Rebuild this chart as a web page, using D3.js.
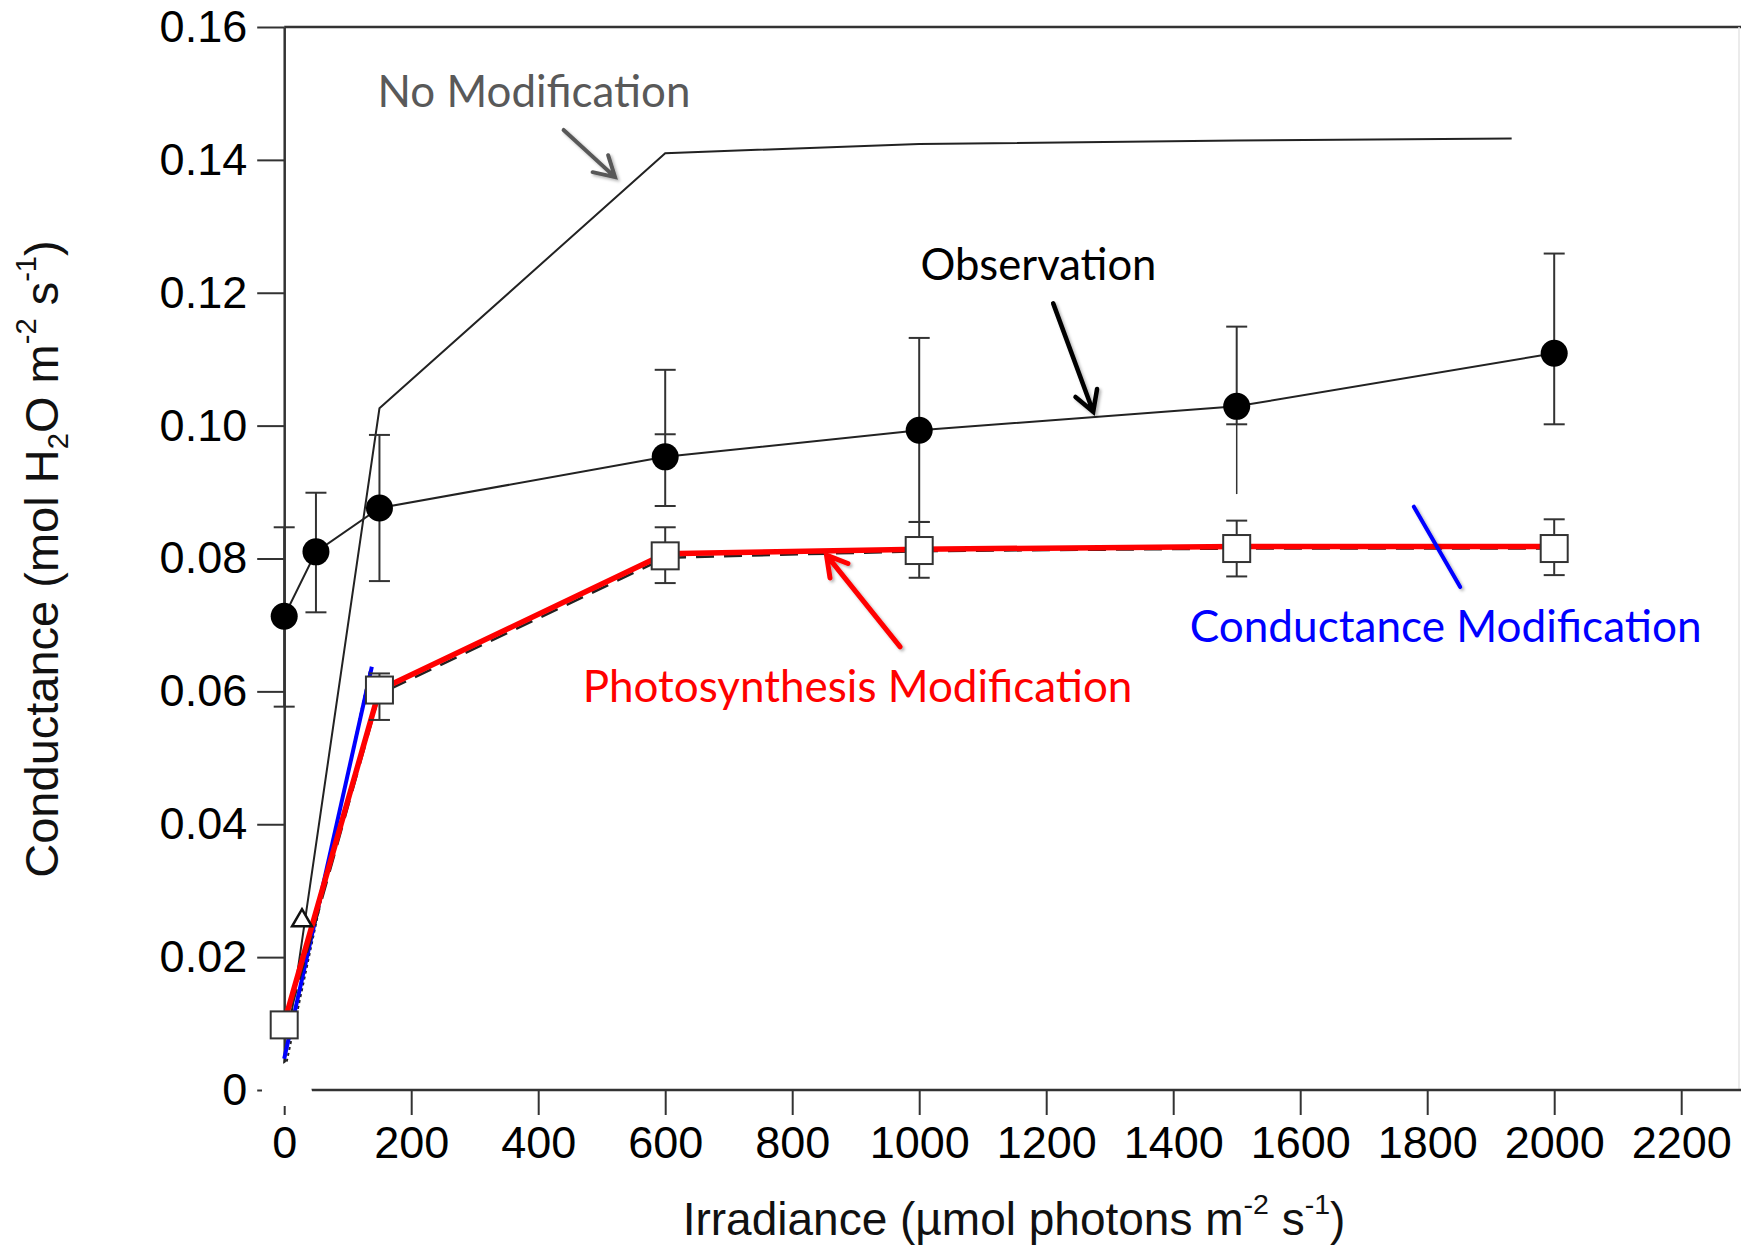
<!DOCTYPE html>
<html>
<head>
<meta charset="utf-8">
<script src="https://cdn.jsdelivr.net/npm/d3@7"></script>
<style>
  html, body { margin: 0; padding: 0; background: #fff; }
  svg { display: block; }
</style>
</head>
<body>
<script>
// ---- data ----
const xTicks = [0, 200, 400, 600, 800, 1000, 1200, 1400, 1600, 1800, 2000, 2200];
const yTicks = [0, 0.02, 0.04, 0.06, 0.08, 0.10, 0.12, 0.14, 0.16];

// observation (filled circles, with error bars)
const obsX  = [0, 50, 150, 600, 1000, 1500, 2000];
const obsY  = [0.0713, 0.0810, 0.0876, 0.0953, 0.0993, 0.1029, 0.1109];
const obsLo = [0.0577, 0.0719, 0.0766, 0.0879, 0.0855, 0.1002, 0.1002];
const obsHi = [0.0847, 0.0899, 0.0986, 0.1084, 0.1132, 0.1149, 0.1259];
// stray bits left over in the figure
const obsExtraCapX = [600];
const obsExtraCapY = [0.0987];
const obsStemX = [1500];
const obsStemFrom = [0.1002];
const obsStemTo = [0.0897];

// modelled points (open squares, with error bars)
const sqX  = [0, 150, 600, 1000, 1500, 2000];
const sqY  = [0.0098, 0.0602, 0.0804, 0.0812, 0.0815, 0.0815];
const sqLo = [null, 0.0557, 0.0763, 0.0771, 0.0773, 0.0775];
const sqHi = [null, 0.0627, 0.0847, 0.0855, 0.0857, 0.0859];

// no modification model
const noModX = [0, 150, 600, 1000, 1500, 1933];
const noModY = [0.0040, 0.1026, 0.1410, 0.1424, 0.1429, 0.1432];

// photosynthesis modification (red)
const photoX = [0, 150, 600, 1000, 1500, 2000];
const photoY = [0.0101, 0.0602, 0.0807, 0.0814, 0.0818, 0.0818];

// black dashed model line under the red one
const dashX = [0, 150, 600, 1000, 1500, 2000];
const dashY = [0.0085, 0.0596, 0.0801, 0.0811, 0.0815, 0.0815];

// conductance modification (blue), only visible at low light
const condX = [0, 138];
const condY = [0.0047, 0.0637];

// dotted black line next to the blue one
const dotX = [0, 135];
const dotY = [0.0025, 0.0632];

// triangle marker
const triX = [28];
const triY = [0.0255];

// annotation labels (data coords of text start / baseline)
const labels = [
  { text: "No Modification", x: 147, y: 0.1480, w: 313, color: "#595959" },
  { text: "Observation", x: 1002, y: 0.1219, w: 236, color: "#000000" },
  { text: "Photosynthesis Modification", x: 470, y: 0.0584, w: 550, color: "#ff0000" },
  { text: "Conductance Modification", x: 1426, y: 0.0675, w: 512, color: "#0000ff" }
];
const arrows = [
  { x1: 440, y1: 0.1445, x2: 521, y2: 0.1374, color: "#595959", sw: 4, head: true },
  { x1: 1211, y1: 0.1184, x2: 1274, y2: 0.1021, color: "#000000", sw: 4.5, head: true },
  { x1: 970, y1: 0.0667, x2: 854, y2: 0.0805, color: "#ff0000", sw: 5, head: true },
  { x1: 1779, y1: 0.0878, x2: 1852, y2: 0.0757, color: "#0000ff", sw: 4, head: false }
];

// ---- chart ----
const W = 1741, H = 1245;
const x = d3.scaleLinear().domain([0, 2200]).range([284.2, 1681.2]);
const y = d3.scaleLinear().domain([0, 0.16]).range([1090, 27]);
const axisCol = "#333";
const tickFont = "'Liberation Sans', Arial, Helvetica, sans-serif";

const svg = d3.select("body").append("svg")
  .attr("width", W).attr("height", H)
  .attr("viewBox", `0 0 ${W} ${H}`);

const defs = svg.append("defs");
defs.append("filter").attr("id", "shadow")
  .attr("x", "-20%").attr("y", "-20%").attr("width", "140%").attr("height", "140%")
  .append("feDropShadow")
  .attr("dx", 2).attr("dy", 2).attr("stdDeviation", 1.5)
  .attr("flood-color", "#000").attr("flood-opacity", 0.3);

svg.append("rect").attr("width", W).attr("height", H).attr("fill", "#fff");

// frame: top line and faint right edge
svg.append("line")
  .attr("x1", x(0)).attr("x2", W).attr("y1", y(0.16)).attr("y2", y(0.16))
  .attr("stroke", axisCol).attr("stroke-width", 2.5);
svg.append("line")
  .attr("x1", W - 2).attr("x2", W - 2).attr("y1", y(0.16)).attr("y2", y(0))
  .attr("stroke", "#e4e4e4").attr("stroke-width", 1.5);
// x axis baseline runs to the right edge
svg.append("line")
  .attr("x1", x(0)).attr("x2", W).attr("y1", y(0)).attr("y2", y(0))
  .attr("stroke", axisCol).attr("stroke-width", 2.5);

const yAxis = svg.append("g")
  .attr("transform", `translate(${x(0)},0)`)
  .call(d3.axisLeft(y).tickValues(yTicks).tickSize(27).tickSizeOuter(0).tickPadding(10)
    .tickFormat(d => d === 0 ? "0" : d3.format(".2f")(d)));
yAxis.select(".domain").attr("stroke", axisCol).attr("stroke-width", 2.5);
yAxis.selectAll(".tick line").attr("stroke", axisCol).attr("stroke-width", 2);
yAxis.selectAll(".tick text")
  .attr("font-family", tickFont)
  .attr("font-size", 45).attr("fill", "#000");

const xAxis = svg.append("g")
  .attr("transform", `translate(0,${y(0)})`)
  .call(d3.axisBottom(x).tickValues(xTicks).tickSize(25).tickSizeOuter(0).tickPadding(11)
    .tickFormat(d3.format("d")));
xAxis.select(".domain").remove();
xAxis.selectAll(".tick line").attr("stroke", axisCol).attr("stroke-width", 2);
xAxis.selectAll(".tick text")
  .attr("font-family", tickFont)
  .attr("font-size", 45).attr("fill", "#000");

// axis titles
function addRich(sel, parts) {
  parts.forEach(p => {
    const t = sel.append("tspan").text(p.t);
    if (p.s === "sup") t.attr("font-size", "0.62em").attr("dy", "-0.75em");
    if (p.s === "sub") t.attr("font-size", "0.62em").attr("dy", "0.35em");
    if (p.back) t.attr("dy", p.back);
  });
}
const xt = svg.append("text")
  .attr("x", 1014).attr("y", 1235)
  .attr("text-anchor", "middle")
  .attr("font-family", tickFont).attr("font-size", 46).attr("fill", "#111");
addRich(xt, [
  { t: "Irradiance (\u00b5mol photons m" },
  { t: "-2", s: "sup" },
  { t: " s", back: "0.465em" },
  { t: "-1", s: "sup" },
  { t: ")", back: "0.465em" }
]);

const yt = svg.append("text")
  .attr("transform", "translate(58,559) rotate(-90)")
  .attr("text-anchor", "middle")
  .attr("font-family", tickFont).attr("font-size", 47).attr("fill", "#111");
addRich(yt, [
  { t: "Conductance (mol H" },
  { t: "2", s: "sub" },
  { t: "O m", back: "-0.217em" },
  { t: "-2", s: "sup" },
  { t: " s", back: "0.465em" },
  { t: "-1", s: "sup" },
  { t: ")", back: "0.465em" }
]);

// lines
const line = d3.line().x(d => x(d[0])).y(d => y(d[1]));
const zip = (a, b) => a.map((v, i) => [v, b[i]]);

svg.append("path").attr("d", line(zip(noModX, noModY)))
  .attr("fill", "none").attr("stroke", "#222").attr("stroke-width", 2);

svg.append("path").attr("d", line(zip(dotX, dotY)))
  .attr("fill", "none").attr("stroke", "#222").attr("stroke-width", 2)
  .attr("stroke-dasharray", "3,3");

svg.append("path").attr("d", line(zip(condX, condY)))
  .attr("fill", "none").attr("stroke", "#0000ff").attr("stroke-width", 4);

svg.append("path").attr("d", line(zip(dashX, dashY)))
  .attr("fill", "none").attr("stroke", "#222").attr("stroke-width", 2.5)
  .attr("stroke-dasharray", "18,10");

svg.append("path").attr("d", line(zip(photoX, photoY)))
  .attr("fill", "none").attr("stroke", "#ff0000").attr("stroke-width", 5.5);

svg.append("path").attr("d", line(zip(obsX, obsY)))
  .attr("fill", "none").attr("stroke", "#222").attr("stroke-width", 2);

// error bars
const capW = 21;
function errorBars(xs, lo, hi) {
  const g = svg.append("g").attr("stroke", "#333").attr("stroke-width", 2);
  xs.forEach((xv, i) => {
    if (lo[i] == null) return;
    g.append("line").attr("x1", x(xv)).attr("x2", x(xv))
      .attr("y1", y(lo[i])).attr("y2", y(hi[i]));
    [lo[i], hi[i]].forEach(v => {
      g.append("line").attr("x1", x(xv) - capW / 2).attr("x2", x(xv) + capW / 2)
        .attr("y1", y(v)).attr("y2", y(v));
    });
  });
  return g;
}
errorBars(sqX, sqLo, sqHi);
const og = errorBars(obsX, obsLo, obsHi);
obsExtraCapX.forEach((xv, i) => {
  og.append("line").attr("x1", x(xv) - capW / 2).attr("x2", x(xv) + capW / 2)
    .attr("y1", y(obsExtraCapY[i])).attr("y2", y(obsExtraCapY[i]));
});
obsStemX.forEach((xv, i) => {
  og.append("line").attr("x1", x(xv)).attr("x2", x(xv))
    .attr("y1", y(obsStemFrom[i])).attr("y2", y(obsStemTo[i]))
    .attr("stroke-width", 1.5);
});

// squares
const sq = 27;
svg.append("g").selectAll("rect").data(zip(sqX, sqY)).join("rect")
  .attr("x", d => x(d[0]) - sq / 2).attr("y", d => y(d[1]) - sq / 2)
  .attr("width", sq).attr("height", sq)
  .attr("fill", "#fff").attr("stroke", "#333").attr("stroke-width", 2);

// circles
svg.append("g").selectAll("circle").data(zip(obsX, obsY)).join("circle")
  .attr("cx", d => x(d[0])).attr("cy", d => y(d[1])).attr("r", 13.5)
  .attr("fill", "#000");

// triangle
svg.append("g").selectAll("path").data(zip(triX, triY)).join("path")
  .attr("d", d3.symbol().type(d3.symbolTriangle).size(170))
  .attr("transform", d => `translate(${x(d[0])},${y(d[1])})`)
  .attr("fill", "#fff").attr("stroke", "#111").attr("stroke-width", 2.5);

// white patch over the origin corner (erased in the figure)
const patch = [[-35, 0.0015], [2.8, 0.0042], [34, 0.0042], [44, -0.0003], [34, -0.0024], [-35, -0.0024]];
svg.append("path").attr("d", d3.line().x(d => x(d[0])).y(d => y(d[1]))(patch) + "Z")
  .attr("fill", "#fff");

// annotation arrows
arrows.forEach(a => {
  const x1 = x(a.x1), y1 = y(a.y1), x2 = x(a.x2), y2 = y(a.y2);
  let d = `M${x1},${y1}L${x2},${y2}`;
  if (a.head) {
    const ang = Math.atan2(y1 - y2, x1 - x2), L = 23, spread = Math.PI / 6;
    const bx1 = x2 + L * Math.cos(ang + spread), by1 = y2 + L * Math.sin(ang + spread);
    const bx2 = x2 + L * Math.cos(ang - spread), by2 = y2 + L * Math.sin(ang - spread);
    d += `M${bx1},${by1}L${x2},${y2}L${bx2},${by2}`;
  }
  svg.append("path").attr("d", d)
    .attr("fill", "none").attr("stroke", a.color).attr("stroke-width", a.sw)
    .attr("stroke-linecap", "round").attr("stroke-linejoin", "miter")
    .attr("filter", "url(#shadow)");
});

// annotation labels, font size fitted to the width in the figure
labels.forEach(l => {
  const t = svg.append("text")
    .attr("x", x(l.x)).attr("y", y(l.y))
    .attr("font-family", "Lato, 'Open Sans', sans-serif")
    .attr("font-size", 44).attr("fill", l.color)
    .text(l.text);
  const len = t.node().getComputedTextLength();
  if (len > 0) t.attr("font-size", 44 * l.w / len);
});
</script>
</body>
</html>
